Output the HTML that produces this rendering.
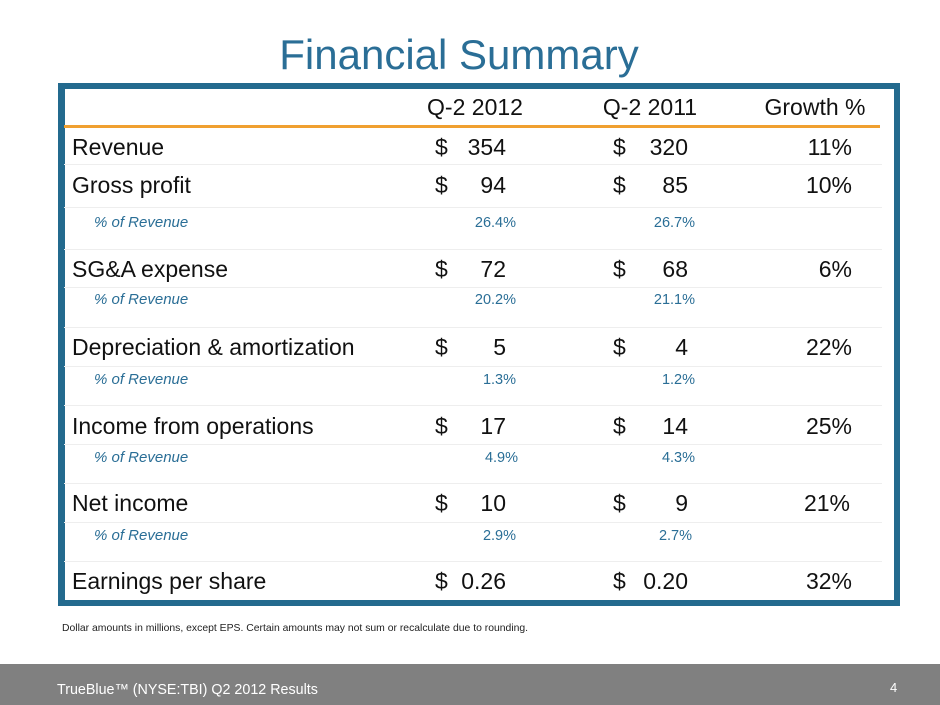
<!DOCTYPE html>
<html><head><meta charset="utf-8"><style>
body{margin:0;width:940px;height:705px;position:relative;background:#fff;font-family:"Liberation Sans",Arial,sans-serif;overflow:hidden}
.a{position:absolute;white-space:nowrap}
.t{font-size:23px;color:#111;line-height:26px}
.p{font-size:15px;color:#2a6e96;font-style:italic;line-height:18px}
.q{font-size:14.5px;color:#2a6e96;line-height:18px}
.r{text-align:right}
.sep{position:absolute;left:64px;width:818px;height:1px;background:#eeeeee}
</style></head><body>
<div class="a" style="left:0;width:918px;top:30px;text-align:center;font-size:42px;color:#2a6e96;line-height:50px">Financial Summary</div>
<div class="a" style="left:58px;top:83px;width:829px;height:511px;border:6px solid #236a8e;border-left-width:7px"></div>
<div style="position:absolute;left:64px;top:125px;width:816px;height:3px;background:#f0a030"></div>
<div class="a t" style="left:400px;width:150px;top:94px;text-align:center">Q-2 2012</div>
<div class="a t" style="left:575px;width:150px;top:94px;text-align:center">Q-2 2011</div>
<div class="a t" style="left:740px;width:150px;top:94px;text-align:center">Growth %</div>
<div class="sep" style="top:164px"></div><div class="sep" style="top:207px"></div><div class="sep" style="top:249px"></div><div class="sep" style="top:287px"></div><div class="sep" style="top:327px"></div><div class="sep" style="top:366px"></div><div class="sep" style="top:405px"></div><div class="sep" style="top:444px"></div><div class="sep" style="top:483px"></div><div class="sep" style="top:522px"></div><div class="sep" style="top:561px"></div>

<div class="a t" style="left:72px;top:134px">Revenue</div>
<div class="a t" style="left:435px;top:134px">$</div><div class="a t r" style="right:434px;top:134px">354</div>
<div class="a t" style="left:613px;top:134px">$</div><div class="a t r" style="right:252px;top:134px">320</div>
<div class="a t r" style="right:88px;top:134px">11%</div>

<div class="a t" style="left:72px;top:172px">Gross profit</div>
<div class="a t" style="left:435px;top:172px">$</div><div class="a t r" style="right:434px;top:172px">94</div>
<div class="a t" style="left:613px;top:172px">$</div><div class="a t r" style="right:252px;top:172px">85</div>
<div class="a t r" style="right:88px;top:172px">10%</div>
<div class="a p" style="left:94px;top:214px">% of Revenue</div>
<div class="a q r" style="right:424px;top:214px">26.4%</div><div class="a q r" style="right:245px;top:214px">26.7%</div>

<div class="a t" style="left:72px;top:256px">SG&amp;A expense</div>
<div class="a t" style="left:435px;top:256px">$</div><div class="a t r" style="right:434px;top:256px">72</div>
<div class="a t" style="left:613px;top:256px">$</div><div class="a t r" style="right:252px;top:256px">68</div>
<div class="a t r" style="right:88px;top:256px">6%</div>
<div class="a p" style="left:94px;top:291px">% of Revenue</div>
<div class="a q r" style="right:424px;top:291px">20.2%</div><div class="a q r" style="right:245px;top:291px">21.1%</div>

<div class="a t" style="left:72px;top:334px">Depreciation &amp; amortization</div>
<div class="a t" style="left:435px;top:334px">$</div><div class="a t r" style="right:434px;top:334px">5</div>
<div class="a t" style="left:613px;top:334px">$</div><div class="a t r" style="right:252px;top:334px">4</div>
<div class="a t r" style="right:88px;top:334px">22%</div>
<div class="a p" style="left:94px;top:371px">% of Revenue</div>
<div class="a q r" style="right:424px;top:371px">1.3%</div><div class="a q r" style="right:245px;top:371px">1.2%</div>

<div class="a t" style="left:72px;top:413px">Income from operations</div>
<div class="a t" style="left:435px;top:413px">$</div><div class="a t r" style="right:434px;top:413px">17</div>
<div class="a t" style="left:613px;top:413px">$</div><div class="a t r" style="right:252px;top:413px">14</div>
<div class="a t r" style="right:88px;top:413px">25%</div>
<div class="a p" style="left:94px;top:449px">% of Revenue</div>
<div class="a q r" style="right:422px;top:449px">4.9%</div><div class="a q r" style="right:245px;top:449px">4.3%</div>

<div class="a t" style="left:72px;top:490px">Net income</div>
<div class="a t" style="left:435px;top:490px">$</div><div class="a t r" style="right:434px;top:490px">10</div>
<div class="a t" style="left:613px;top:490px">$</div><div class="a t r" style="right:252px;top:490px">9</div>
<div class="a t r" style="right:90px;top:490px">21%</div>
<div class="a p" style="left:94px;top:527px">% of Revenue</div>
<div class="a q r" style="right:424px;top:527px">2.9%</div><div class="a q r" style="right:248px;top:527px">2.7%</div>

<div class="a t" style="left:72px;top:568px">Earnings per share</div>
<div class="a t" style="left:435px;top:568px">$</div><div class="a t r" style="right:434px;top:568px">0.26</div>
<div class="a t" style="left:613px;top:568px">$</div><div class="a t r" style="right:252px;top:568px">0.20</div>
<div class="a t r" style="right:88px;top:568px">32%</div>

<div class="a" style="left:62px;top:623px;font-size:10.4px;color:#222">Dollar amounts in millions, except EPS. Certain amounts may not sum or recalculate due to rounding.</div>
<div style="position:absolute;left:0;top:664px;width:940px;height:41px;background:#808080"></div>
<div class="a" style="left:57px;top:682px;font-size:14.3px;color:#fff">TrueBlue™ (NYSE:TBI) Q2 2012 Results</div>
<div class="a" style="left:890px;top:680px;font-size:13px;color:#fff">4</div>
</body></html>
